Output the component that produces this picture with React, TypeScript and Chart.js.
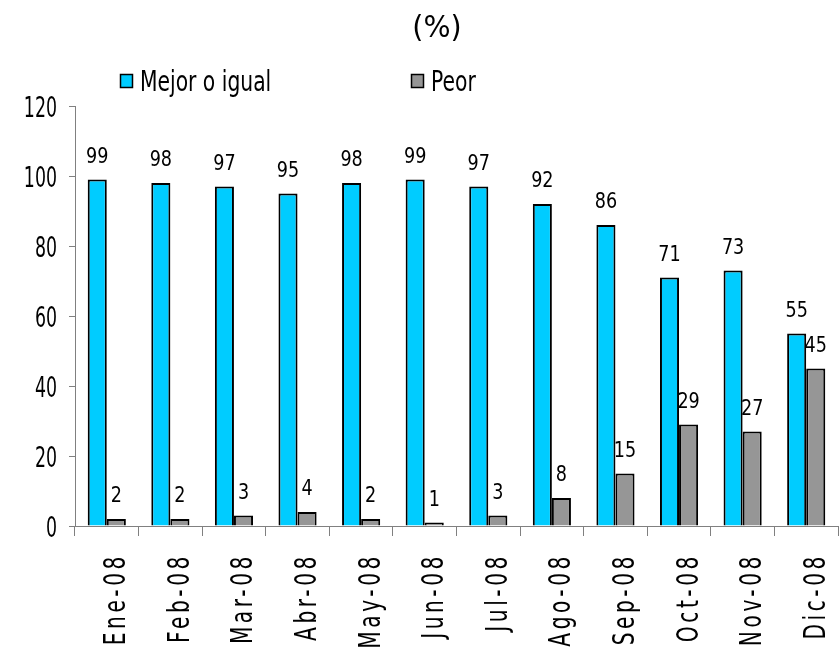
import React, { useEffect, useRef } from "react";
import { Chart, registerables } from "chart.js";

Chart.register(...registerables);

const categories = ["Ene-08", "Feb-08", "Mar-08", "Abr-08", "May-08", "Jun-08", "Jul-08", "Ago-08", "Sep-08", "Oct-08", "Nov-08", "Dic-08"];
const mejorValues = [99, 98, 97, 95, 98, 99, 97, 92, 86, 71, 73, 55];
const peorValues = [2, 2, 3, 4, 2, 1, 3, 8, 15, 29, 27, 45];
const seriesNames = ["Mejor o igual", "Peor"];
const yTicks = [0, 20, 40, 60, 80, 100, 120];
const titleText = "(%)";

const BLUE = "#00CCFF";
const GREY = "#969696";
const AXIS = "#808080";
const FONT = "DejaVu Sans";

function drawScaled(ctx: CanvasRenderingContext2D, text: string, x: number, y: number, size: number, sx: number, align: CanvasTextAlign) {
  ctx.save();
  ctx.translate(x, y);
  ctx.scale(sx, 1);
  ctx.font = `${size}px "${FONT}"`;
  ctx.textAlign = align;
  ctx.textBaseline = "alphabetic";
  ctx.fillStyle = "#000";
  ctx.fillText(text, 0, 0);
  ctx.restore();
}

const textPlugin = {
  id: "customText",
  afterDraw(chart: any) {
    const ctx: CanvasRenderingContext2D = chart.ctx;
    const xs = chart.scales.x;
    const ys = chart.scales.y;

    // title
    drawScaled(ctx, titleText, 437, 37, 30, 0.95, "center");

    // legend
    const legendItems = [
      { x: 120, color: BLUE, text: seriesNames[0] },
      { x: 411, color: GREY, text: seriesNames[1] },
    ];
    legendItems.forEach((it) => {
      ctx.save();
      ctx.fillStyle = it.color;
      ctx.fillRect(it.x, 74, 13, 14);
      ctx.strokeStyle = "#000";
      ctx.lineWidth = 1.5;
      ctx.strokeRect(it.x + 0.5, 74.5, 12, 13);
      ctx.restore();
      drawScaled(ctx, it.text, it.x + 20, 91, 29, 0.7, "left");
    });

    // y tick labels
    yTicks.forEach((v) => {
      const py = ys.getPixelForValue(v);
      drawScaled(ctx, String(v), 57, py + 10.5, 28, 0.62, "right");
    });

    // x labels rotated
    categories.forEach((c, i) => {
      const cx = xs.getPixelForValue(i);
      ctx.save();
      ctx.translate(cx + 18.5, 553);
      ctx.rotate(-Math.PI / 2);
      ctx.scale(0.65, 1);
      ctx.font = `31px "${FONT}"`;
      (ctx as any).letterSpacing = "5.5px";
      ctx.textAlign = "right";
      ctx.textBaseline = "alphabetic";
      ctx.fillStyle = "#000";
      ctx.fillText(c, 0, 0);
      ctx.restore();
    });

    // data labels
    chart.data.datasets.forEach((ds: any, di: number) => {
      const meta = chart.getDatasetMeta(di);
      meta.data.forEach((bar: any, i: number) => {
        drawScaled(ctx, String(ds.data[i]), bar.x, bar.y - 17, 22, 0.8, "center");
      });
    });
  },
};

export default function App() {
  const ref = useRef<HTMLCanvasElement | null>(null);
  useEffect(() => {
    document.body.style.margin = "0";
    const canvas = ref.current!;
    const chart = new Chart(canvas, {
      type: "bar",
      data: {
        labels: categories,
        datasets: [
          { label: seriesNames[0], data: mejorValues, backgroundColor: BLUE, borderColor: "#000", borderWidth: 2, categoryPercentage: 0.6, barPercentage: 1 },
          { label: seriesNames[1], data: peorValues, backgroundColor: GREY, borderColor: "#000", borderWidth: 2, categoryPercentage: 0.6, barPercentage: 1 },
        ],
      },
      options: {
        animation: false,
        responsive: false,
        maintainAspectRatio: false,
        layout: { padding: { top: 106, right: 2, left: 0, bottom: 0 } },
        plugins: { legend: { display: false }, title: { display: false }, tooltip: { enabled: false } },
        scales: {
          x: {
            offset: true,
            ticks: { display: false },
            grid: { offset: true, drawOnChartArea: false, drawTicks: true, tickLength: 10, color: AXIS, lineWidth: 1 },
            border: { color: AXIS, width: 1 },
            afterFit: (s: any) => { s.height = 123; },
          },
          y: {
            min: 0,
            max: 120,
            ticks: { display: false, stepSize: 20 },
            grid: { drawOnChartArea: false, drawTicks: true, tickLength: 6, color: AXIS, lineWidth: 1 },
            border: { color: AXIS, width: 1 },
            afterFit: (s: any) => { s.width = 75; },
          },
        },
      },
      plugins: [textPlugin],
    });
    return () => chart.destroy();
  }, []);
  return (
    <div style={{ width: 840, height: 649 }}>
      <canvas ref={ref} width={840} height={649} style={{ display: "block" }} />
    </div>
  );
}
